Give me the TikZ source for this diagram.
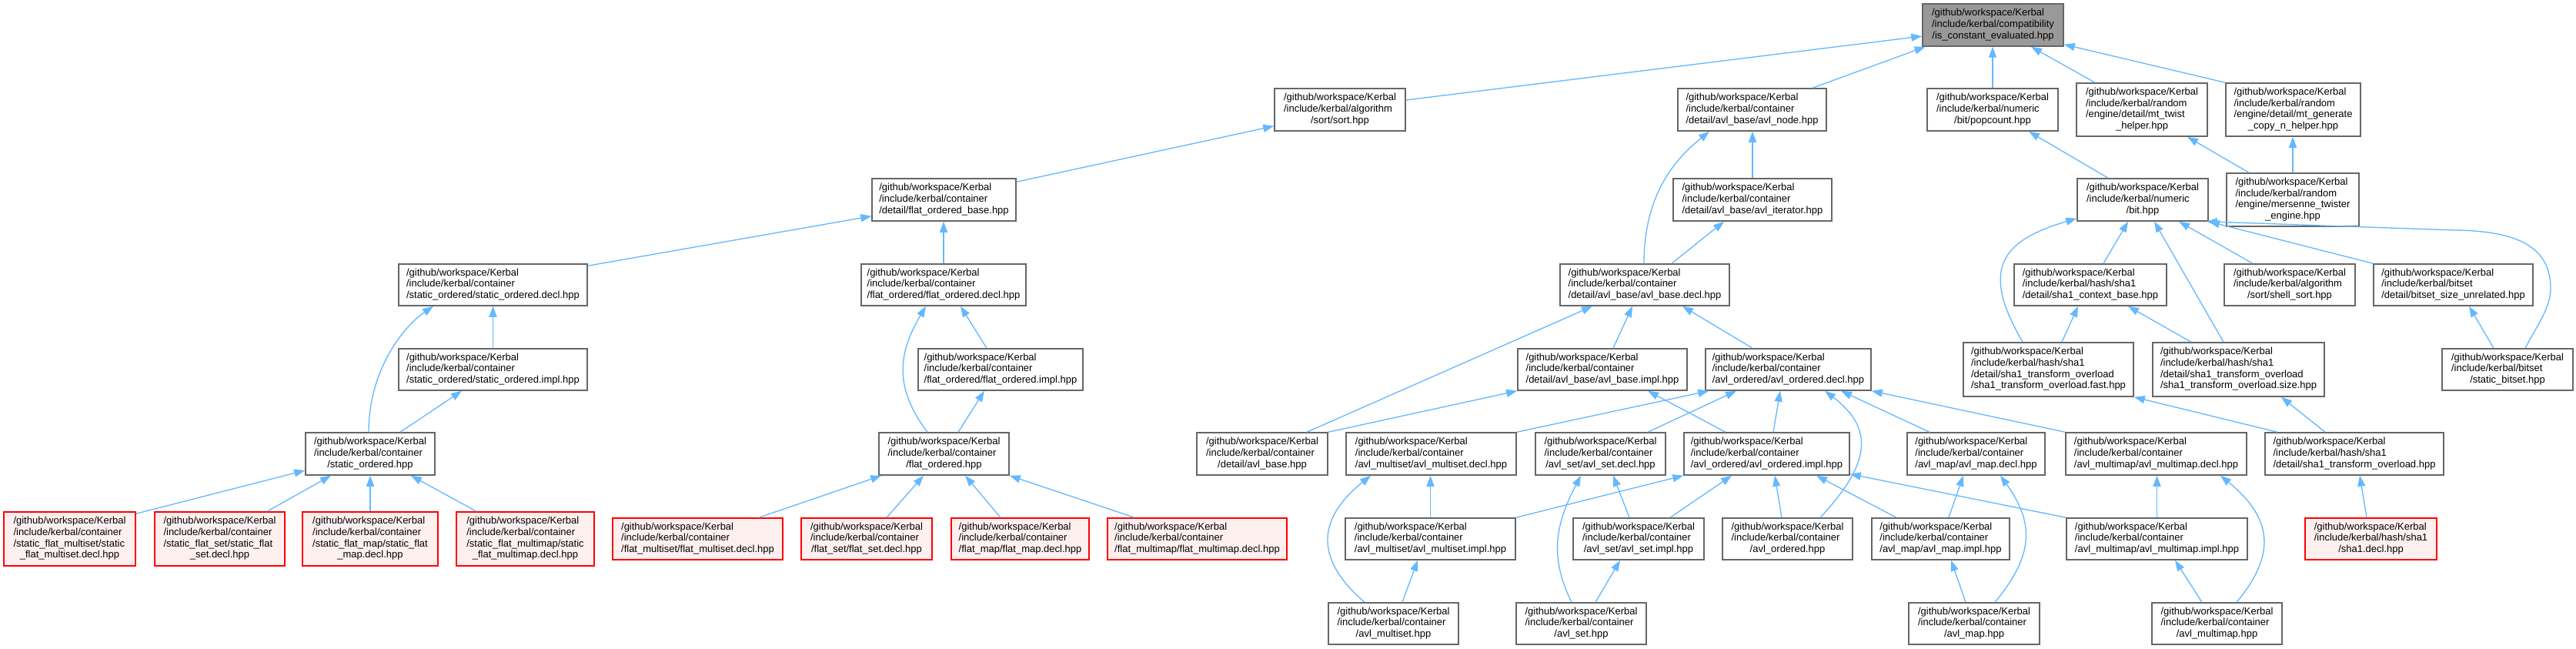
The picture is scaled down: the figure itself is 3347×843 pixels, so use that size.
\documentclass[tikz,border=0pt]{standalone}
\usepackage{fontspec}
\setmainfont{Liberation Sans}
\usetikzlibrary{arrows.meta}
\definecolor{edgeblue}{HTML}{63B8FF}
\definecolor{boxgray}{HTML}{666666}
\definecolor{topfill}{HTML}{999999}
\definecolor{redfill}{HTML}{FFF0F0}
\definecolor{redline}{HTML}{FF0000}
\newcommand\nlbl[2]{\begin{tabular}{@{}l@{}}#1\\\multicolumn{1}{@{}c@{}}{#2}\end{tabular}}
\newcommand\kgw{/github/workspace/Kerbal}
\newcommand\kic{/include/kerbal/container}
\tikzset{
 fbox/.style={draw=boxgray, line width=1.5pt, fill=white, inner sep=0pt, font=\fontsize{13}{14.7}\selectfont, text=black},
 topbox/.style={fbox, fill=topfill},
 redbox/.style={fbox, draw=redline, fill=redfill},
 edge/.style={draw=edgeblue, line width=1.3pt, -{Triangle[length=14pt,width=10pt]}},
}
\begin{document}
\begin{tikzpicture}[x=1pt,y=-1pt]
\useasboundingbox (0,0) rectangle (3347,843);
\fill[white] (0,0) rectangle (3347,843);
% row 0
\node[topbox, minimum width=183pt, minimum height=55pt] (top) at (2589.5,32.5) {\nlbl{\kgw\\/include/kerbal/compatibility}{/is\_constant\_evaluated.hpp}};
% row 1
\node[fbox, minimum width=170pt, minimum height=55pt] (sort) at (1741,142.5) {\nlbl{\kgw\\/include/kerbal/algorithm}{/sort/sort.hpp}};
\node[fbox, minimum width=193pt, minimum height=55pt] (avlnode) at (2276.5,142.5) {\nlbl{\kgw\\\kic}{/detail/avl\_base/avl\_node.hpp}};
\node[fbox, minimum width=170pt, minimum height=55pt] (popcount) at (2589,142.5) {\nlbl{\kgw\\/include/kerbal/numeric}{/bit/popcount.hpp}};
\node[fbox, minimum width=170pt, minimum height=69pt] (mttwist) at (2783,142.5) {\nlbl{\kgw\\/include/kerbal/random\\/engine/detail/mt\_twist}{\_helper.hpp}};
\node[fbox, minimum width=175pt, minimum height=69pt] (mtgen) at (2979.5,142.5) {\nlbl{\kgw\\/include/kerbal/random\\/engine/detail/mt\_generate}{\_copy\_n\_helper.hpp}};
% row 2
\node[fbox, minimum width=187pt, minimum height=55pt] (flatbase) at (1226.5,259.5) {\nlbl{\kgw\\\kic}{/detail/flat\_ordered\_base.hpp}};
\node[fbox, minimum width=206pt, minimum height=55pt] (avliter) at (2277,259.5) {\nlbl{\kgw\\\kic}{/detail/avl\_base/avl\_iterator.hpp}};
\node[fbox, minimum width=170pt, minimum height=55pt] (bit) at (2784,259.5) {\nlbl{\kgw\\/include/kerbal/numeric}{/bit.hpp}};
\node[fbox, minimum width=172pt, minimum height=69pt] (mersenne) at (2979,259.5) {\nlbl{\kgw\\/include/kerbal/random\\/engine/mersenne\_twister}{\_engine.hpp}};
% row 3
\node[fbox, minimum width=245pt, minimum height=54pt] (sodecl) at (640.5,370) {\nlbl{\kgw\\\kic}{/static\_ordered/static\_ordered.decl.hpp}};
\node[fbox, minimum width=214pt, minimum height=54pt] (fodecl) at (1226,370) {\nlbl{\kgw\\\kic}{/flat\_ordered/flat\_ordered.decl.hpp}};
\node[fbox, minimum width=220pt, minimum height=54pt] (avlbasedecl) at (2137,370) {\nlbl{\kgw\\\kic}{/detail/avl\_base/avl\_base.decl.hpp}};
\node[fbox, minimum width=198pt, minimum height=54pt] (sha1ctx) at (2716,370) {\nlbl{\kgw\\/include/kerbal/hash/sha1}{/detail/sha1\_context\_base.hpp}};
\node[fbox, minimum width=170pt, minimum height=54pt] (shellsort) at (2975,370) {\nlbl{\kgw\\/include/kerbal/algorithm}{/sort/shell\_sort.hpp}};
\node[fbox, minimum width=207pt, minimum height=54pt] (bitsetsu) at (3187.5,370) {\nlbl{\kgw\\/include/kerbal/bitset}{/detail/bitset\_size\_unrelated.hpp}};
% row 4
\node[fbox, minimum width=245pt, minimum height=54pt] (soimpl) at (640.5,480) {\nlbl{\kgw\\\kic}{/static\_ordered/static\_ordered.impl.hpp}};
\node[fbox, minimum width=214pt, minimum height=54pt] (foimpl) at (1300,480) {\nlbl{\kgw\\\kic}{/flat\_ordered/flat\_ordered.impl.hpp}};
\node[fbox, minimum width=220pt, minimum height=54pt] (avlbaseimpl) at (2082,480) {\nlbl{\kgw\\\kic}{/detail/avl\_base/avl\_base.impl.hpp}};
\node[fbox, minimum width=215pt, minimum height=54pt] (avlorddecl) at (2323.5,480) {\nlbl{\kgw\\\kic}{/avl\_ordered/avl\_ordered.decl.hpp}};
\node[fbox, minimum width=221pt, minimum height=70pt] (fast) at (2661.5,480) {\nlbl{\kgw\\/include/kerbal/hash/sha1\\/detail/sha1\_transform\_overload}{/sha1\_transform\_overload.fast.hpp}};
\node[fbox, minimum width=223pt, minimum height=70pt] (size) at (2908.5,480) {\nlbl{\kgw\\/include/kerbal/hash/sha1\\/detail/sha1\_transform\_overload}{/sha1\_transform\_overload.size.hpp}};
\node[fbox, minimum width=170pt, minimum height=54pt] (staticbitset) at (3258,480) {\nlbl{\kgw\\/include/kerbal/bitset}{/static\_bitset.hpp}};
% row 5
\node[fbox, minimum width=168pt, minimum height=55pt] (so) at (481,589.5) {\nlbl{\kgw\\\kic}{/static\_ordered.hpp}};
\node[fbox, minimum width=169pt, minimum height=55pt] (fo) at (1226.5,589.5) {\nlbl{\kgw\\\kic}{/flat\_ordered.hpp}};
\node[fbox, minimum width=170pt, minimum height=55pt] (avlbase) at (1640,589.5) {\nlbl{\kgw\\\kic}{/detail/avl\_base.hpp}};
\node[fbox, minimum width=221pt, minimum height=55pt] (amsdecl) at (1859.5,589.5) {\nlbl{\kgw\\\kic}{/avl\_multiset/avl\_multiset.decl.hpp}};
\node[fbox, minimum width=169pt, minimum height=55pt] (asdecl) at (2079.5,589.5) {\nlbl{\kgw\\\kic}{/avl\_set/avl\_set.decl.hpp}};
\node[fbox, minimum width=215pt, minimum height=55pt] (aoimpl) at (2295.5,589.5) {\nlbl{\kgw\\\kic}{/avl\_ordered/avl\_ordered.impl.hpp}};
\node[fbox, minimum width=179pt, minimum height=55pt] (amdecl) at (2567.5,589.5) {\nlbl{\kgw\\\kic}{/avl\_map/avl\_map.decl.hpp}};
\node[fbox, minimum width=235pt, minimum height=55pt] (ammdecl) at (2801.5,589.5) {\nlbl{\kgw\\\kic}{/avl\_multimap/avl\_multimap.decl.hpp}};
\node[fbox, minimum width=232pt, minimum height=55pt] (sha1to) at (3059,589.5) {\nlbl{\kgw\\/include/kerbal/hash/sha1}{/detail/sha1\_transform\_overload.hpp}};
% row 6
\node[redbox, minimum width=171pt, minimum height=70pt] (sfms) at (90.5,700) {\nlbl{\kgw\\\kic\\/static\_flat\_multiset/static}{\_flat\_multiset.decl.hpp}};
\node[redbox, minimum width=169pt, minimum height=70pt] (sfs) at (285.5,700) {\nlbl{\kgw\\\kic\\/static\_flat\_set/static\_flat}{\_set.decl.hpp}};
\node[redbox, minimum width=176pt, minimum height=70pt] (sfm) at (481,700) {\nlbl{\kgw\\\kic\\/static\_flat\_map/static\_flat}{\_map.decl.hpp}};
\node[redbox, minimum width=179pt, minimum height=70pt] (sfmm) at (682.5,700) {\nlbl{\kgw\\\kic\\/static\_flat\_multimap/static}{\_flat\_multimap.decl.hpp}};
\node[redbox, minimum width=221pt, minimum height=54pt] (fms) at (906.5,700) {\nlbl{\kgw\\\kic}{/flat\_multiset/flat\_multiset.decl.hpp}};
\node[redbox, minimum width=170pt, minimum height=54pt] (fs) at (1126,700) {\nlbl{\kgw\\\kic}{/flat\_set/flat\_set.decl.hpp}};
\node[redbox, minimum width=179pt, minimum height=54pt] (fm) at (1325.5,700) {\nlbl{\kgw\\\kic}{/flat\_map/flat\_map.decl.hpp}};
\node[redbox, minimum width=233pt, minimum height=54pt] (fmm) at (1555.5,700) {\nlbl{\kgw\\\kic}{/flat\_multimap/flat\_multimap.decl.hpp}};
\node[fbox, minimum width=221pt, minimum height=54pt] (amsimpl) at (1858.5,700) {\nlbl{\kgw\\\kic}{/avl\_multiset/avl\_multiset.impl.hpp}};
\node[fbox, minimum width=170pt, minimum height=54pt] (asimpl) at (2129,700) {\nlbl{\kgw\\\kic}{/avl\_set/avl\_set.impl.hpp}};
\node[fbox, minimum width=169pt, minimum height=54pt] (aohpp) at (2322.5,700) {\nlbl{\kgw\\\kic}{/avl\_ordered.hpp}};
\node[fbox, minimum width=179pt, minimum height=54pt] (amimpl) at (2521.5,700) {\nlbl{\kgw\\\kic}{/avl\_map/avl\_map.impl.hpp}};
\node[fbox, minimum width=235pt, minimum height=54pt] (ammimpl) at (2802.5,700) {\nlbl{\kgw\\\kic}{/avl\_multimap/avl\_multimap.impl.hpp}};
\node[redbox, minimum width=171pt, minimum height=54pt] (sha1decl) at (3080.5,700) {\nlbl{\kgw\\/include/kerbal/hash/sha1}{/sha1.decl.hpp}};
% row 7
\node[fbox, minimum width=169pt, minimum height=54pt] (amshpp) at (1810.5,810) {\nlbl{\kgw\\\kic}{/avl\_multiset.hpp}};
\node[fbox, minimum width=169pt, minimum height=54pt] (ashpp) at (2054.5,810) {\nlbl{\kgw\\\kic}{/avl\_set.hpp}};
\node[fbox, minimum width=170pt, minimum height=54pt] (amhpp) at (2565,810) {\nlbl{\kgw\\\kic}{/avl\_map.hpp}};
\node[fbox, minimum width=169pt, minimum height=54pt] (ammhpp) at (2880.5,810) {\nlbl{\kgw\\\kic}{/avl\_multimap.hpp}};
% edges
\draw[edge] ([yshift=12.5pt]sort.east) -- ([yshift=-14.5pt]top.west);
\draw[edge] ([xshift=78.5pt]avlnode.north) -- ([xshift=-88pt]top.south);
\draw[edge] (popcount.north) -- (popcount.north |- top.south);
\draw[edge] ([xshift=-61pt]mttwist.north) -- ([xshift=49.5pt]top.south);
\draw[edge] (mtgen.north west) -- ([yshift=3pt]top.south east);
\draw[edge] ([yshift=-5pt]flatbase.north east) -- ([yshift=7pt]sort.south west);
\draw[edge] (avliter.north) -- (avliter.north |- avlnode.south);
\draw[edge] ([xshift=-1pt]avlbasedecl.north) .. controls (2136,253) and (2176,207) .. ([xshift=-55.5pt]avlnode.south);
\draw[edge] ([xshift=35pt]avlbasedecl.north) -- ([xshift=-37pt]avliter.south);
\draw[edge] ([xshift=-45pt]bit.north) -- ([xshift=47pt]popcount.south);
\draw[edge] ([xshift=-57pt]mersenne.north) -- ([xshift=59pt]mttwist.south);
\draw[edge] (mersenne.north) -- (mersenne.north |- mtgen.south);
\draw[edge] ([yshift=-3pt]sodecl.north east) -- ([yshift=7pt]flatbase.south west);
\draw[edge] (fodecl.north) -- (fodecl.north |- flatbase.south);
\draw[edge] (soimpl.north) -- (sodecl.south);
\draw[edge] ([xshift=-2pt]so.north) .. controls (479,482) and (523,425) .. ([xshift=-77.5pt]sodecl.south);
\draw[edge] ([xshift=39pt]so.north) -- ([xshift=-40.5pt]soimpl.south);
\draw[edge] ([xshift=-18pt]foimpl.north) -- ([xshift=22pt]fodecl.south);
\draw[edge] ([xshift=-21.5pt]fo.north) .. controls (1160,502) and (1168,457) .. ([xshift=-23pt]fodecl.south);
\draw[edge] ([xshift=18.5pt]fo.north) -- ([xshift=-21pt]foimpl.south);
\draw[edge] ([yshift=-3pt]sfms.north east) -- ([yshift=-21.5pt]so.west);
\draw[edge] ([xshift=61.5pt]sfs.north) -- ([xshift=-51pt]so.south);
\draw[edge] (sfm.north) -- (so.south);
\draw[edge] ([xshift=-63.5pt]sfmm.north) -- ([xshift=53pt]so.south);
\draw[edge] ([xshift=79.5pt]fms.north) -- ([xshift=4pt]fo.south west);
\draw[edge] ([xshift=26pt]fs.north) -- ([xshift=-26.5pt]fo.south);
\draw[edge] ([xshift=-25.5pt]fm.north) -- ([xshift=27.5pt]fo.south);
\draw[edge] ([xshift=-81.5pt]fmm.north) -- (fo.south east);
\draw[edge] ([xshift=14pt]avlbaseimpl.north) -- ([xshift=-16pt]avlbasedecl.south);
\draw[edge] ([xshift=-46.5pt]avlorddecl.north) -- ([xshift=49pt]avlbasedecl.south);
\draw[edge] ([xshift=58pt]avlbase.north) -- ([xshift=-68pt]avlbasedecl.south);
\draw[edge] (avlbase.north east) -- (avlbaseimpl.south west);
\draw[edge] (amsdecl.north east) -- ([xshift=5pt]avlorddecl.south west);
\draw[edge] ([xshift=61.5pt]asdecl.north) -- ([xshift=-67.5pt]avlorddecl.south);
\draw[edge] ([xshift=8.5pt]aoimpl.north) -- ([xshift=-10.5pt]avlorddecl.south);
\draw[edge] ([xshift=42.5pt]aohpp.north) .. controls (2430,603) and (2436,557) .. ([xshift=47.5pt]avlorddecl.south);
\draw[edge] ([xshift=-60.5pt]amdecl.north) -- ([xshift=68.5pt]avlorddecl.south);
\draw[edge] (ammdecl.north west) -- (avlorddecl.south east);
\draw[edge] (amsimpl.north east) -- (aoimpl.south west);
\draw[edge] ([xshift=41pt]asimpl.north) -- ([xshift=-45.5pt]aoimpl.south);
\draw[edge] ([xshift=-7.5pt]aohpp.north) -- ([xshift=10.5pt]aoimpl.south);
\draw[edge] ([xshift=-57.5pt]amimpl.north) -- ([xshift=64.5pt]aoimpl.south);
\draw[edge] (ammimpl.north west) -- ([yshift=2pt]aoimpl.south east);
\draw[edge] ([xshift=-53.5pt]aoimpl.north) -- ([xshift=59pt]avlbaseimpl.south);
\draw[edge] (amsimpl.north) -- (amsimpl.north |- amsdecl.south);
\draw[edge] ([xshift=-37.5pt]amshpp.north) .. controls (1703,722) and (1716,670) .. ([xshift=-78.5pt]amsdecl.south);
\draw[edge] ([xshift=11.5pt]amshpp.north) -- ([xshift=-16.5pt]amsimpl.south);
\draw[edge] ([xshift=-12pt]asimpl.north) -- ([xshift=16.5pt]asdecl.south);
\draw[edge] ([xshift=-12.5pt]ashpp.north) .. controls (2012,722) and (2022,679) .. ([xshift=-25.5pt]asdecl.south);
\draw[edge] ([xshift=18.5pt]ashpp.north) -- ([xshift=-24pt]asimpl.south);
\draw[edge] ([xshift=10.5pt]amimpl.north) -- ([xshift=-16.5pt]amdecl.south);
\draw[edge] ([xshift=27pt]amhpp.north) .. controls (2642,722) and (2644,680) .. ([xshift=31.5pt]amdecl.south);
\draw[edge] ([xshift=-11pt]amhpp.north) -- ([xshift=13.5pt]amimpl.south);
\draw[edge] (ammimpl.north) -- (ammimpl.north |- ammdecl.south);
\draw[edge] ([xshift=25.5pt]ammhpp.north) .. controls (2956,722) and (2955,675) .. ([xshift=83.5pt]ammdecl.south);
\draw[edge] ([xshift=-19.5pt]ammhpp.north) -- ([xshift=23.5pt]ammimpl.south);
\draw[edge] ([xshift=-5.5pt]sha1decl.north) -- ([xshift=7pt]sha1to.south);
\draw[edge] ([xshift=-100pt]sha1to.north) -- (fast.south east);
\draw[edge] ([xshift=-38pt]sha1to.north) -- ([xshift=55.5pt]size.south);
\draw[edge] ([xshift=17pt]sha1ctx.north) -- ([xshift=-19pt]bit.south);
\draw[edge] ([xshift=-33.5pt]fast.north) .. controls (2573,350) and (2599,313) .. ([yshift=4pt]bit.south west);
\draw[edge] ([xshift=-19.5pt]size.north) -- ([xshift=15pt]bit.south);
\draw[edge] ([xshift=-48pt]shellsort.north) -- ([xshift=47pt]bit.south);
\draw[edge] (bitsetsu.north west) -- (bit.south east);
\draw[edge] ([xshift=23pt]staticbitset.north) .. controls (3295,425) and (3314,400) .. (3314,375) .. controls (3314,320) and (3270,300) .. (3190,299) -- ([xshift=-3pt]bit.south east);
\draw[edge] ([xshift=17.5pt]fast.north) -- ([xshift=-16pt]sha1ctx.south);
\draw[edge] ([xshift=-61.5pt]size.north) -- ([xshift=49pt]sha1ctx.south);
\draw[edge] ([xshift=-18pt]staticbitset.north) -- ([xshift=20.5pt]bitsetsu.south);
\end{tikzpicture}
\end{document}
